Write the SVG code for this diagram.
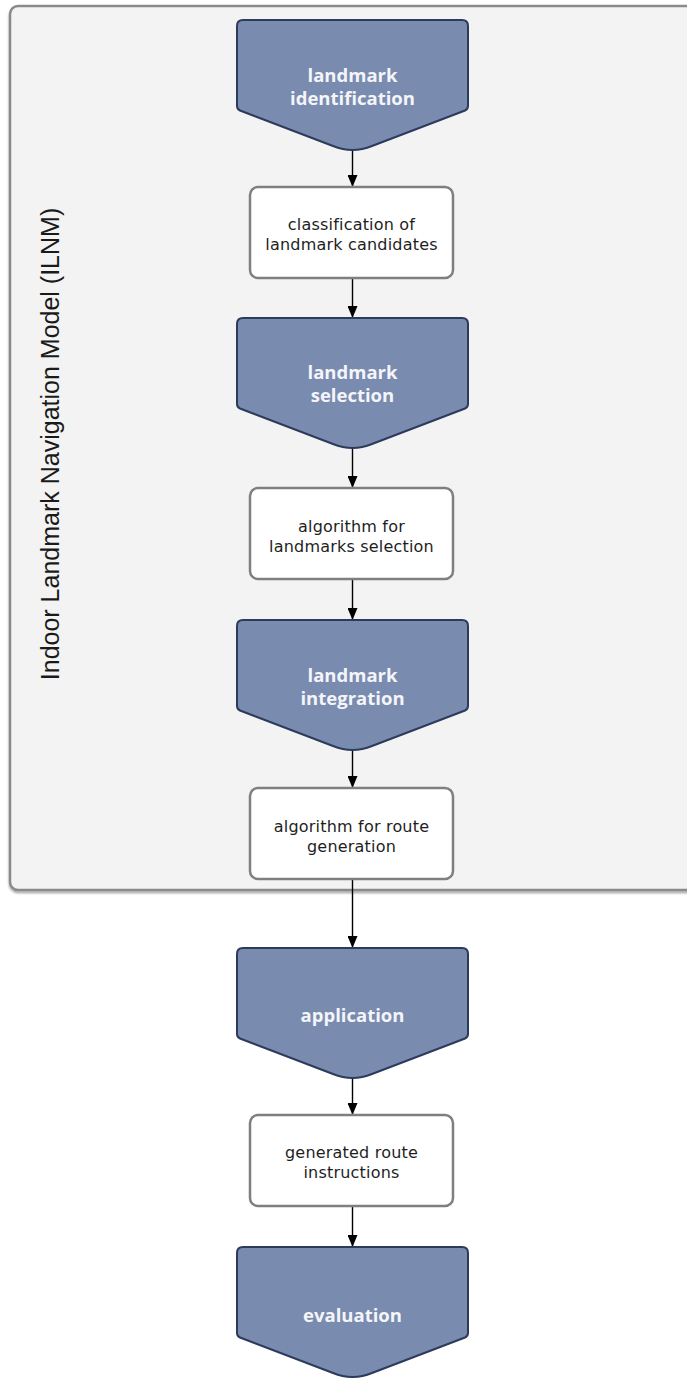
<svg xmlns="http://www.w3.org/2000/svg" width="687" height="1378" viewBox="0 0 687 1378">
  <defs>
    <style>
      .frame { fill: #f3f3f3; stroke: #8a8a8a; stroke-width: 2.5; }
      .step { fill: #7a8bb0; stroke: #2c3a5c; stroke-width: 2; }
      .box { fill: #ffffff; stroke: #7f7f7f; stroke-width: 2.5; }
      .step-label { font-family: "Open Sans", "DejaVu Sans", sans-serif; font-weight: bold; font-size: 18.5px; fill: #f4f5f8; text-anchor: middle; }
      .box-label { font-family: "DejaVu Sans", "Open Sans", sans-serif; font-size: 16px; letter-spacing: 0.2px; fill: #1e1e1e; text-anchor: middle; }
      .frame-label { font-family: "Liberation Sans", Arial, sans-serif; font-size: 25px; fill: #1a1a1a; text-anchor: middle; }
      .flow { stroke: #000000; stroke-width: 1.4; fill: none; marker-end: url(#head); }
    </style>
    <marker id="head" viewBox="0 0 12 10" refX="12" refY="5" markerWidth="12" markerHeight="10" markerUnits="userSpaceOnUse" orient="auto">
      <path d="M0,0 L12,5 L0,10 Z" fill="#000000"/>
    </marker>
    <filter id="drop" x="-5%" y="-5%" width="110%" height="110%">
      <feGaussianBlur in="SourceAlpha" stdDeviation="1"/>
      <feOffset dx="0" dy="1.5" result="s"/>
      <feComponentTransfer><feFuncA type="linear" slope="0.35"/></feComponentTransfer>
      <feMerge><feMergeNode/><feMergeNode in="SourceGraphic"/></feMerge>
    </filter>
    <!-- pentagon step shape, top edge at y=0 -->
    <path id="pent" d="M237,6 Q237,0 243,0 L462,0 Q468,0 468,6 L468,86 Q468,89 465,90.5 L372,126 Q352.5,134 333,126 L240,90.5 Q237,89 237,86 Z"/>
  </defs>

  <rect width="687" height="1378" fill="#ffffff"/>

  <!-- ILNM container -->
  <g id="ilnm-frame">
    <rect class="frame" x="10" y="6" width="700" height="884" rx="8" filter="url(#drop)"/>
    <text class="frame-label" transform="translate(59,444) rotate(-90)">Indoor Landmark Navigation Model (ILNM)</text>
  </g>

  <!-- connectors -->
  <g id="connectors">
    <line class="flow" x1="352.5" y1="150" x2="352.5" y2="187"/>
    <line class="flow" x1="352.5" y1="278" x2="352.5" y2="318"/>
    <line class="flow" x1="352.5" y1="447" x2="352.5" y2="488"/>
    <line class="flow" x1="352.5" y1="579" x2="352.5" y2="620"/>
    <line class="flow" x1="352.5" y1="750" x2="352.5" y2="788"/>
    <line class="flow" x1="352.5" y1="879" x2="352.5" y2="948"/>
    <line class="flow" x1="352.5" y1="1078" x2="352.5" y2="1115"/>
    <line class="flow" x1="352.5" y1="1206" x2="352.5" y2="1247"/>
  </g>

  <g id="landmark-identification">
    <use href="#pent" class="step" transform="translate(0,20)"/>
    <text class="step-label" x="352.5" y="82">landmark</text>
    <text class="step-label" x="352.5" y="105">identification</text>
  </g>

  <g id="classification">
    <rect class="box" x="250" y="187" width="203" height="91" rx="8"/>
    <text class="box-label" x="351.5" y="230">classification of</text>
    <text class="box-label" x="351.5" y="250">landmark candidates</text>
  </g>

  <g id="landmark-selection">
    <use href="#pent" class="step" transform="translate(0,318)"/>
    <text class="step-label" x="352.5" y="379">landmark</text>
    <text class="step-label" x="352.5" y="402">selection</text>
  </g>

  <g id="selection-algorithm">
    <rect class="box" x="250" y="488" width="203" height="91" rx="8"/>
    <text class="box-label" x="351.5" y="532">algorithm for</text>
    <text class="box-label" x="351.5" y="552">landmarks selection</text>
  </g>

  <g id="landmark-integration">
    <use href="#pent" class="step" transform="translate(0,620)"/>
    <text class="step-label" x="352.5" y="682">landmark</text>
    <text class="step-label" x="352.5" y="705">integration</text>
  </g>

  <g id="route-algorithm">
    <rect class="box" x="250" y="788" width="203" height="91" rx="8"/>
    <text class="box-label" x="351.5" y="832">algorithm for route</text>
    <text class="box-label" x="351.5" y="852">generation</text>
  </g>

  <g id="application">
    <use href="#pent" class="step" transform="translate(0,948)"/>
    <text class="step-label" x="352.5" y="1022">application</text>
  </g>

  <g id="route-instructions">
    <rect class="box" x="250" y="1115" width="203" height="91" rx="8"/>
    <text class="box-label" x="351.5" y="1158">generated route</text>
    <text class="box-label" x="351.5" y="1178">instructions</text>
  </g>

  <g id="evaluation">
    <use href="#pent" class="step" transform="translate(0,1247)"/>
    <text class="step-label" x="352.5" y="1322">evaluation</text>
  </g>
</svg>
